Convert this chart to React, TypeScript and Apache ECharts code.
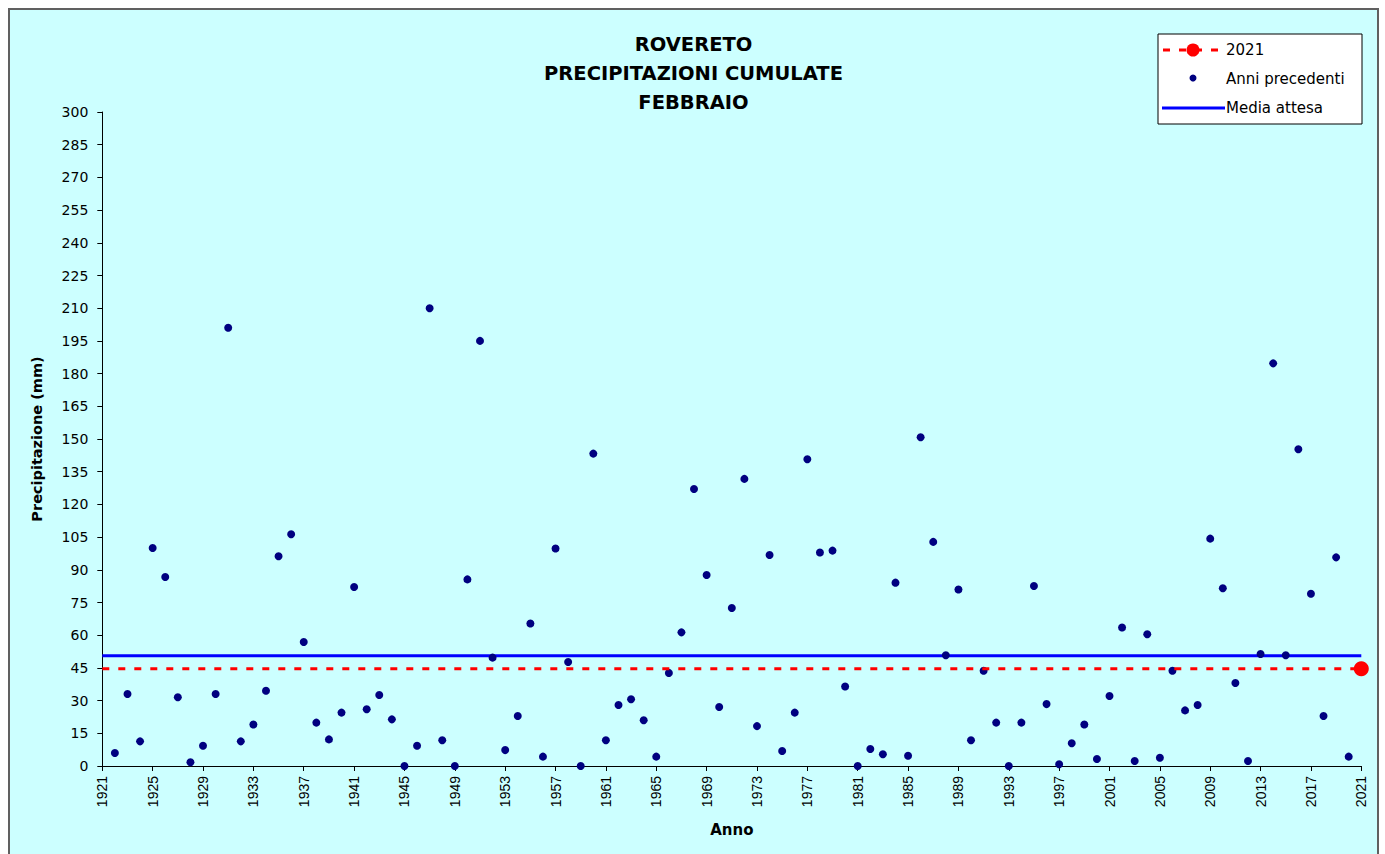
import React, { useEffect, useRef } from "react";
import * as echarts from "echarts";

// ---- Data ----
const FIRST_YEAR = 1921;
const LAST_YEAR = 2021;
const CATEGORIES: string[] = Array.from(
  { length: LAST_YEAR - FIRST_YEAR + 1 },
  (_, i) => String(FIRST_YEAR + i)
);

const PREV_YEARS: number[] = [
  1922, 1923, 1924, 1925, 1926, 1927, 1928, 1929, 1930, 1931,
  1932, 1933, 1934, 1935, 1936, 1937, 1938, 1939, 1940, 1941,
  1942, 1943, 1944, 1945, 1946, 1947, 1948, 1949, 1950, 1951,
  1952, 1953, 1954, 1955, 1956, 1957, 1958, 1959, 1960, 1961,
  1962, 1963, 1964, 1965, 1966, 1967, 1968, 1969, 1970, 1971,
  1972, 1973, 1974, 1975, 1976, 1977, 1978, 1979, 1980, 1981,
  1982, 1983, 1984, 1985, 1986, 1987, 1988, 1989, 1990, 1991,
  1992, 1993, 1994, 1995, 1996, 1997, 1998, 1999, 2000, 2001,
  2002, 2003, 2004, 2005, 2006, 2007, 2008, 2009, 2010, 2011,
  2012, 2013, 2014, 2015, 2016, 2017, 2018, 2019, 2020,
];

const PREV_VALUES: number[] = [
  6, 33, 11.3, 100, 86.7, 31.5, 1.7, 9.3, 33, 201,
  11.3, 19, 34.5, 96.2, 106.3, 56.9, 19.9, 12.2, 24.5, 82.1,
  26, 32.6, 21.4, 0, 9.3, 210, 11.8, 0, 85.6, 195,
  49.7, 7.3, 22.9, 65.4, 4.3, 99.8, 47.7, 0, 143.3, 11.8,
  28, 30.6, 21, 4.3, 42.7, 61.3, 127.1, 87.6, 27.1, 72.5,
  131.7, 18.3, 96.8, 6.9, 24.5, 140.7, 97.9, 98.8, 36.5, 0,
  7.8, 5.4, 84.1, 4.7, 150.8, 102.8, 50.8, 81, 11.8, 43.7,
  19.9, 0, 19.9, 82.6, 28.4, 0.8, 10.4, 19, 3.2, 32.1,
  63.5, 2.3, 60.4, 3.8, 43.7, 25.5, 28, 104.3, 81.5, 38.1,
  2.3, 51.4, 184.7, 50.8, 145.3, 79, 22.9, 95.7, 4.3,
];

const CURRENT_YEAR = 2021;
const CURRENT_VALUE = 44.6;
const MEAN_VALUE = 50.6;

const TITLE_LINES = ["ROVERETO", "PRECIPITAZIONI CUMULATE", "FEBBRAIO"];
const LEGEND_LABELS = ["2021", "Anni precedenti", "Media attesa"];

const Y_MIN = 0;
const Y_MAX = 300;
const Y_STEP = 15;

export default function App() {
  const ref = useRef<HTMLDivElement>(null);

  useEffect(() => {
    if (!ref.current) return;
    const chart = echarts.init(ref.current, undefined, { renderer: "svg" });

    const lx = 1148;
    const ly = 24;
    const legendGraphic: any[] = [
      {
        type: "rect",
        shape: { x: lx, y: ly, width: 204, height: 90 },
        style: { fill: "#ffffff", stroke: "#000000", lineWidth: 1 },
        z: 100,
      },
      {
        type: "line",
        shape: { x1: lx + 5, y1: ly + 16, x2: lx + 66, y2: ly + 16 },
        style: { stroke: "#ff0000", lineWidth: 3, lineDash: [7, 9] },
        z: 101,
      },
      {
        type: "circle",
        shape: { cx: lx + 35, cy: ly + 16, r: 6.5 },
        style: { fill: "#ff0000" },
        z: 102,
      },
      {
        type: "circle",
        shape: { cx: lx + 35, cy: ly + 44, r: 3.5 },
        style: { fill: "#000080" },
        z: 102,
      },
      {
        type: "line",
        shape: { x1: lx + 4, y1: ly + 74, x2: lx + 67, y2: ly + 74 },
        style: { stroke: "#0000ff", lineWidth: 3 },
        z: 101,
      },
      ...LEGEND_LABELS.map((t, i) => ({
        type: "text",
        x: lx + 68,
        y: ly + 16 + i * 29,
        style: {
          text: t,
          fill: "#000000",
          font: "15px 'DejaVu Sans'",
          textVerticalAlign: "middle",
          verticalAlign: "middle",
        },
        z: 102,
      })),
    ];

    chart.setOption({
      animation: false,
      backgroundColor: "#ccffff",
      title: {
        text: TITLE_LINES.join("\n"),
        left: "center",
        top: 15,
        textStyle: {
          fontFamily: "DejaVu Sans",
          fontWeight: "bold",
          fontSize: 19.5,
          lineHeight: 29,
          color: "#000000",
        },
      },
      grid: { left: 92.3, right: 15.7, top: 102, bottom: 88 },
      xAxis: {
        type: "category",
        data: CATEGORIES,
        boundaryGap: false,
        name: "Anno",
        nameLocation: "middle",
        nameGap: 56,
        nameTextStyle: {
          fontFamily: "DejaVu Sans",
          fontWeight: "bold",
          fontSize: 15,
          color: "#000000",
        },
        axisLine: { lineStyle: { color: "#000000", width: 1 } },
        axisTick: { show: true, interval: 3, length: 5, lineStyle: { color: "#000000" } },
        axisLabel: {
          interval: 3,
          rotate: 90,
          margin: 10,
          fontFamily: "Liberation Sans",
          fontSize: 14,
          color: "#000000",
        },
        splitLine: { show: false },
      },
      yAxis: {
        type: "value",
        min: Y_MIN,
        max: Y_MAX,
        interval: Y_STEP,
        name: "Precipitazione (mm)",
        nameLocation: "middle",
        nameGap: 58,
        nameTextStyle: {
          fontFamily: "DejaVu Sans",
          fontWeight: "bold",
          fontSize: 14.5,
          color: "#000000",
        },
        axisLine: { show: true, lineStyle: { color: "#000000", width: 1 } },
        axisTick: { show: true, length: 5, lineStyle: { color: "#000000" } },
        axisLabel: {
          margin: 14,
          fontFamily: "DejaVu Sans",
          fontSize: 14,
          color: "#000000",
        },
        splitLine: { show: false },
      },
      series: [
        {
          name: "Media attesa",
          type: "line",
          data: [
            [String(FIRST_YEAR), MEAN_VALUE],
            [String(LAST_YEAR), MEAN_VALUE],
          ],
          symbol: "none",
          lineStyle: { color: "#0000ff", width: 3 },
          z: 2,
        },
        {
          name: "2021",
          type: "line",
          data: [
            { value: [String(FIRST_YEAR), CURRENT_VALUE], symbol: "none" },
            { value: [String(CURRENT_YEAR), CURRENT_VALUE], symbol: "circle" },
          ],
          symbol: "circle",
          symbolSize: 15,
          showSymbol: true,
          itemStyle: { color: "#ff0000", opacity: 1 },
          lineStyle: { color: "#ff0000", width: 3, type: [7, 9] },
          z: 4,
        },
        {
          name: "Anni precedenti",
          type: "scatter",
          data: PREV_YEARS.map((y, i) => [String(y), PREV_VALUES[i]]),
          symbol: "circle",
          symbolSize: 8,
          itemStyle: { color: "#000080", opacity: 1 },
          z: 3,
        },
      ],
      graphic: legendGraphic,
    });

    return () => chart.dispose();
  }, []);

  return (
    <div
      style={{
        position: "fixed",
        left: 8,
        top: 8,
        width: 1371,
        height: 846,
        boxSizing: "border-box",
        borderLeft: "2px solid #606060",
        borderTop: "2px solid #606060",
        borderRight: "2px solid #606060",
        background: "#ccffff",
      }}
    >
      <div ref={ref} style={{ width: 1367, height: 844 }} />
    </div>
  );
}
